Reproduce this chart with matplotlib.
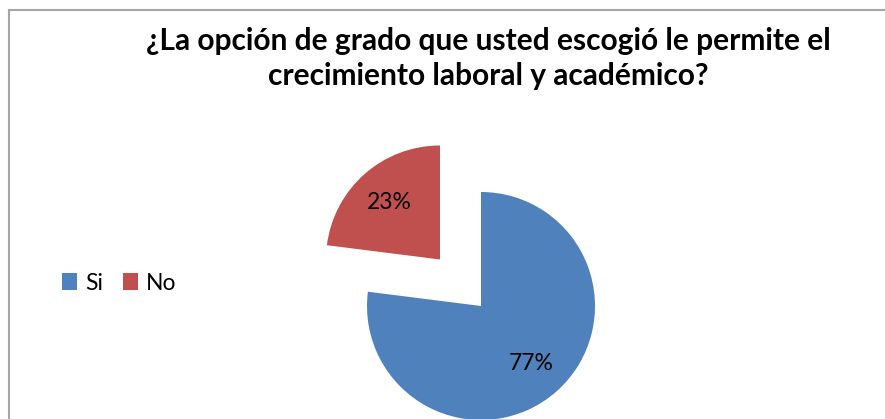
import matplotlib.pyplot as plt
from matplotlib.lines import Line2D
from matplotlib.patches import Patch

# data
labels = ['Si', 'No']
values = [77, 23]
colors = ['#4F81BD', '#C0504D']
title_lines = ['¿La opción de grado que usted escogió le permite el',
               'crecimiento laboral y académico?']

W, H = 885, 419
fig = plt.figure(figsize=(W / 100, H / 100), dpi=100)
plt.rcParams['font.family'] = ['Lato', 'DejaVu Sans']

# axes in pixel units so the pie can be placed exactly
ax = fig.add_axes([0, 0, 1, 1])
cx, cy, r = 481, H - 306, 114
wedges, texts, autotexts = ax.pie(
    values, colors=colors, startangle=90, counterclock=False,
    explode=[0, 62], center=(cx, cy), radius=r,
    autopct='%1.0f%%', pctdistance=0.67,
    textprops={'fontsize': 16.5, 'color': 'black'},
    wedgeprops={'linewidth': 0})
ax.set_xlim(0, W)
ax.set_ylim(0, H)
ax.set_aspect('auto')
ax.axis('off')

# chart border (left and top edges visible)
fig.add_artist(Line2D([8.5 / W, 8.5 / W], [0, 1 - 10.5 / H],
                      transform=fig.transFigure, color='#a6a6a6', lw=1.5))
fig.add_artist(Line2D([8.5 / W, 1], [1 - 10.5 / H, 1 - 10.5 / H],
                      transform=fig.transFigure, color='#a6a6a6', lw=1.5))

# title
for i, line in enumerate(title_lines):
    fig.text(488 / W, 1 - (41 + 35 * i) / H, line, ha='center', va='center',
             fontsize=21.5, fontweight='bold')

handles = [Patch(facecolor=c, edgecolor='none') for c in colors]
fig.legend(handles, labels, ncol=2, loc='center left',
           bbox_to_anchor=(41 / W, 1 - 283 / H), frameon=False,
           fontsize=16.5, handlelength=0.68, handleheight=0.72,
           handletextpad=0.35, columnspacing=0.85)

fig.savefig('out.png', dpi=100)
